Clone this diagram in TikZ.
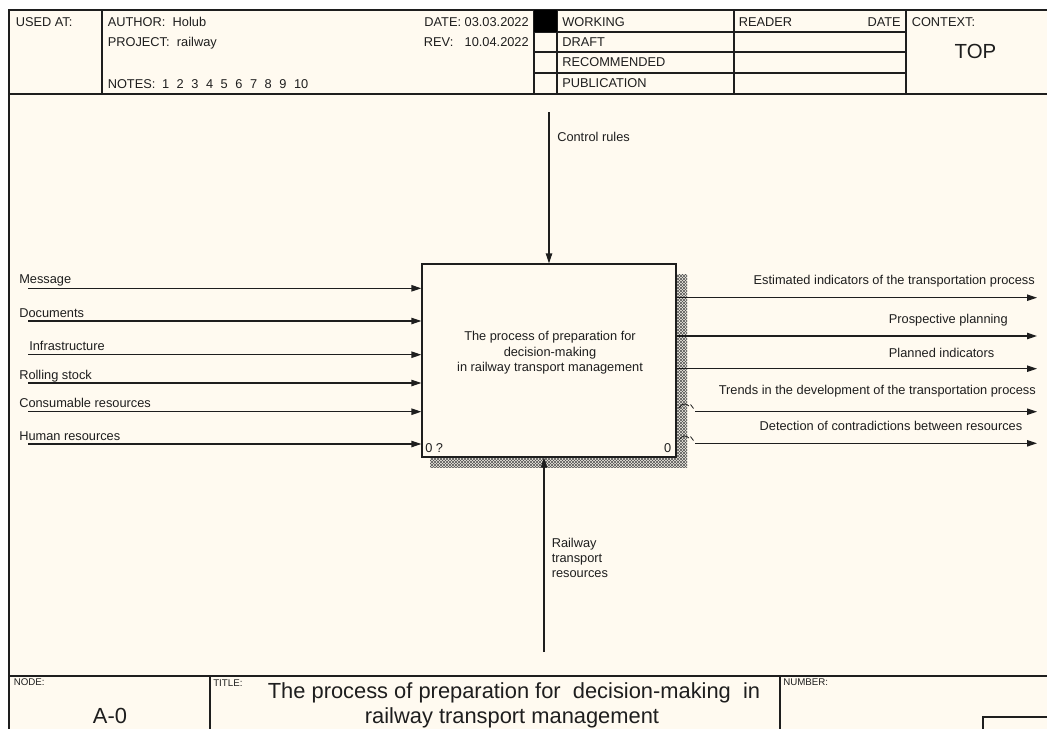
\documentclass[tikz,border=0pt]{standalone}
\usepackage{fontspec}
\setmainfont{Liberation Sans}
\usetikzlibrary{arrows.meta}
\usetikzlibrary{patterns}
\usetikzlibrary{positioning}

\definecolor{sheet}{HTML}{FFFAF0}
\definecolor{ink}{HTML}{1E1E1E}

% fine cross hatch used for the box shadow
\pgfdeclarepatternformonly{idefhatch}{\pgfqpoint{-0.5pt}{-0.5pt}}{\pgfqpoint{2.75pt}{2.75pt}}{\pgfqpoint{2.25pt}{2.25pt}}{
  \pgfsetlinewidth{0.4pt}
  \pgfpathmoveto{\pgfqpoint{0pt}{0pt}}
  \pgfpathlineto{\pgfqpoint{2.25pt}{2.25pt}}
  \pgfpathmoveto{\pgfqpoint{0pt}{2.25pt}}
  \pgfpathlineto{\pgfqpoint{2.25pt}{0pt}}
  \pgfusepath{stroke}
}

\tikzset {
  frame line/.style = {
    draw = ink,
    line width = 1.4pt
  },
  grid line/.style = {
    draw = ink,
    line width = 0.9pt
  },
  % all small texts of the form
  form text/.style = {
    font = \fontsize{9.6}{11.6}\selectfont,
    text = ink,
    inner sep = 0,
    anchor = base west
  },
  tiny text/.style = {
    form text,
    font = \fontsize{7.3}{8}\selectfont
  },
  big text/.style = {
    form text,
    anchor = base,
    font = \fontsize{16.4}{20}\selectfont
  }
}
\tikzset {
  % activity box
  proc/.style = {
    draw = ink,
    fill = sheet,
    line width = 0.9pt,
    rectangle,
    minimum width = 190.5pt,
    minimum height = 144.75pt,
    inner sep = 0
  },
  proc text/.style = {
    form text,
    anchor = center,
    align = center
  },
  shadow/.style = {
    pattern = idefhatch,
    pattern color = ink!75
  },
  % arrow of the diagram
  flow/.style = {
    draw = ink,
    line width = 0.9pt,
    -{Triangle[length = 7.5pt, width = 4.8pt]}
  },
  tunnel/.style = {
    draw = ink,
    line width = 0.6pt
  }
}

\begin{document}
\begin{tikzpicture}[x = 0.75pt, y = -0.75pt]
  \useasboundingbox (0,0) rectangle (1047,729);
  \fill[white] (0,0) rectangle (1047,729);
  \fill[sheet] (9,10) rectangle (1047,729);

  % header
  \draw[frame line] (1047,10) -- (9,10) -- (9,729);
  \draw[frame line] (9,94) -- (1047,94);
  \draw[grid line] (102,10) -- (102,94);
  \draw[grid line] (534,10) -- (534,94);
  \draw[grid line] (557,10) -- (557,94);
  \draw[grid line] (734,10) -- (734,94);
  \draw[grid line] (906,10) -- (906,94);
  \draw[grid line] (534,32) -- (906,32);
  \draw[grid line] (534,52) -- (906,52);
  \draw[grid line] (534,73) -- (906,73);
  \fill[black] (534,10) rectangle (557,32);

  \node[form text] (usedat) at (15.5,26.5) {USED AT:};
  \node[form text] (author) at (107.5,26.5) {AUTHOR:\hspace{5.5pt}Holub};
  \node[form text] (project) at (107.5,46) {PROJECT:\hspace{5.5pt}railway};
  \node[form text] (notes) at (107.5,88) {NOTES:\hspace{5pt}\foreach \n in {1,...,10}{\makebox[11pt][l]{\n}}};
  \node[form text, anchor = base east] (date) at (529,26.5) {DATE: 03.03.2022};
  \node[form text, anchor = base east] (rev) at (529,46) {REV:\hspace{8.5pt}10.04.2022};

  \node[form text] (working) at (562,26.5) {WORKING};
  \node[form text] (draft) at (562,46) {DRAFT};
  \node[form text] (recommended) at (562,66.5) {RECOMMENDED};
  \node[form text] (publication) at (562,87.5) {PUBLICATION};
  \node[form text] (reader) at (738.5,26.5) {READER};
  \node[form text, anchor = base east] (readerdate) at (901,26.5) {DATE};
  \node[form text] (context) at (911.5,26.5) {CONTEXT:};
  \node[big text, font = \fontsize{15.3}{18}\selectfont] (top) at (975.5,58.3) {TOP};

  % footer
  \draw[frame line] (9,676) -- (1047,676);
  \draw[grid line] (210,676) -- (210,729);
  \draw[grid line] (780,676) -- (780,729);
  \draw[grid line] (1047,717) -- (983,717) -- (983,729);

  \node[tiny text] (nodelabel) at (13.5,685.5) {NODE:};
  \node[big text] (nodenum) at (110,723) {A-0};
  \node[tiny text] (titlelabel) at (213,686) {TITLE:};
  \node[big text] (titleA) at (514,698) {The process of preparation for \ decision-making \ in};
  \node[big text] (titleB) at (512,723) {railway transport management};
  \node[tiny text] (numberlabel) at (783,685.5) {NUMBER:};

  % activity
  \fill[shadow] (676,274) rectangle (687,467);
  \fill[shadow] (430,457) rectangle (676,467);
  \node[proc] (proc) at (549,360.5) {};
  \node[proc text] (proctext) at (550,353) {The process of preparation for\\decision-making \\in railway transport management};
  \node[form text] (procnum) at (425,452) {0 ?};
  \node[form text, anchor = base east] (procref) at (671.5,452) {0};

  % control and mechanism
  \coordinate (ctrl) at (549,112);
  \draw[flow] (ctrl) -- (proc.north -| ctrl);
  \node[form text] (ctrllabel) at (557,141) {Control rules};

  \coordinate (mech) at (544,652);
  \draw[flow] (mech) -- (proc.south -| mech);
  \node[form text, anchor = north west, align = left] (mechlabel) at (551.5,537.5) {Railway\\transport\\resources};

  % inputs
  \coordinate (in1) at (28,288.3);
  \coordinate (in2) at (28,321);
  \coordinate (in3) at (28,354.7);
  \coordinate (in4) at (28,383);
  \coordinate (in5) at (28,411.7);
  \coordinate (in6) at (28,444);
  \draw[flow] (in1) -- (proc.west |- in1);
  \draw[flow] (in2) -- (proc.west |- in2);
  \draw[flow] (in3) -- (proc.west |- in3);
  \draw[flow] (in4) -- (proc.west |- in4);
  \draw[flow] (in5) -- (proc.west |- in5);
  \draw[flow] (in6) -- (proc.west |- in6);
  \node[form text] (inlabel1) at (19,283.5) {Message};
  \node[form text] (inlabel2) at (19,317) {Documents};
  \node[form text] (inlabel3) at (29,350.5) {Infrastructure};
  \node[form text] (inlabel4) at (19,379) {Rolling stock};
  \node[form text] (inlabel5) at (19,407.5) {Consumable resources};
  \node[form text] (inlabel6) at (19,440.5) {Human resources};

  % outputs
  \coordinate (out1) at (1037,297.7);
  \coordinate (out2) at (1037,336);
  \coordinate (out3) at (1037,368.7);
  \coordinate (out4) at (1037,411.7);
  \coordinate (out5) at (1037,443.3);
  \coordinate (tun4) at (695,411.7);
  \coordinate (tun5) at (695,443.3);
  \draw[flow] (proc.east |- out1) -- (out1);
  \draw[flow] (proc.east |- out2) -- (out2);
  \draw[flow] (proc.east |- out3) -- (out3);
  \draw[flow] (tun4) -- (out4);
  \draw[flow] (tun5) -- (out5);
  \draw[tunnel] (679,408) .. controls (682,403) and (686,403) .. (689,406);
  \draw[tunnel] (690.5,404.5) -- (693.5,408.5);
  \draw[tunnel] (679,440) .. controls (682,435) and (686,435) .. (689,438);
  \draw[tunnel] (690.5,436.5) -- (693.5,440.5);
  \node[form text, anchor = base east] (outlabel1) at (1035,284) {Estimated indicators of the transportation process};
  \node[form text, anchor = base east] (outlabel2) at (1008,323) {Prospective planning};
  \node[form text, anchor = base east] (outlabel3) at (994.5,357) {Planned indicators};
  \node[form text, anchor = base east] (outlabel4) at (1036,394) {Trends in the development of the transportation process};
  \node[form text, anchor = base east] (outlabel5) at (1022.5,430.5) {Detection of contradictions between resources};
\end{tikzpicture}
\end{document}
